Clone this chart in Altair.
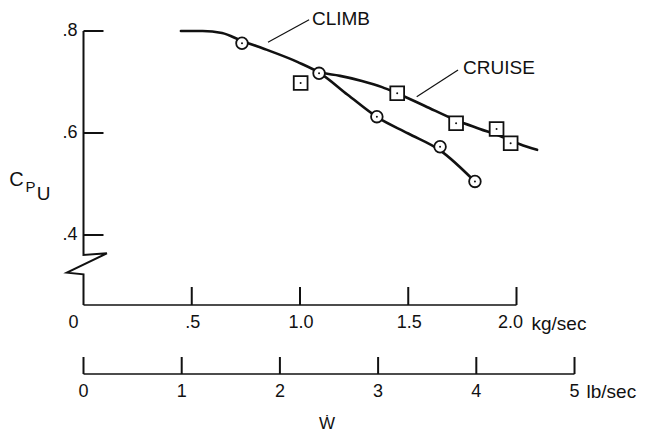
import altair as alt
import pandas as pd

# ---------------- values ----------------
# test points: W (kg/sec) and C_PU
climb_w = [0.732, 1.088, 1.355, 1.647, 1.808]
climb_cpu = [0.776, 0.717, 0.632, 0.573, 0.505]
cruise_w = [1.003, 1.449, 1.721, 1.908, 1.973]
cruise_cpu = [0.698, 0.678, 0.619, 0.608, 0.580]

# faired curves
climb_curve_w = [0.45, 0.55, 0.64, 0.73, 0.86, 0.99, 1.09, 1.22, 1.36, 1.50, 1.647, 1.81]
climb_curve_cpu = [0.800, 0.800, 0.796, 0.781, 0.761, 0.739, 0.718, 0.675, 0.630, 0.599, 0.566, 0.504]
cruise_curve_w = [1.09, 1.185, 1.286, 1.379, 1.448, 1.577, 1.721, 1.831, 1.924, 2.016, 2.095]
cruise_curve_cpu = [0.718, 0.712, 0.702, 0.690, 0.678, 0.653, 0.625, 0.608, 0.594, 0.578, 0.567]

# axes
y_ticks = [0.8, 0.6, 0.4]
y_labels = [".8", ".6", ".4"]
kg_ticks = [0.5, 1.0, 1.5, 2.0]
kg_labels = [".5", "1.0", "1.5", "2.0"]
lb_ticks = [0, 1, 2, 3, 4, 5]
lb_labels = ["0", "1", "2", "3", "4", "5"]
LB_PER_KG = 2.20462

# curve labels (text, leader start, leader end, text anchor)
curve_names = ["CLIMB", "CRUISE"]
leader_from_w = [0.852, 1.539]
leader_from_cpu = [0.778, 0.671]
leader_to_w = [1.042, 1.730]
leader_to_cpu = [0.822, 0.7235]
name_w = [1.055, 1.753]
name_cpu = [0.8235, 0.7275]

# ---------------- layout ----------------
PLOT_W, PLOT_H = 433, 274
Y_TOP = 0.8
PPU_Y = 510.0   # px per unit of C_PU
PPU_X = 216.5   # px per kg/sec
Y_BOT = Y_TOP - PLOT_H / PPU_Y


def du_y(px):
    return px / PPU_Y


def du_x(px):
    return px / PPU_X


FONT = "Liberation Sans"
INK = "#111111"
xs = alt.Scale(domain=[0, 2.0], nice=False, zero=False)
ys = alt.Scale(domain=[Y_BOT, Y_TOP], nice=False, zero=False)


def X(f="x"):
    return alt.X(f"{f}:Q", scale=xs, axis=None)


def Y(f="y"):
    return alt.Y(f"{f}:Q", scale=ys, axis=None)


# y axis with break
yaxis_df = pd.DataFrame({
    "o": [0, 1, 2, 3, 4, 5],
    "x": [0, 0, du_x(23.4), du_x(-16.6), 0, 0],
    "y": [Y_TOP, Y_TOP - du_y(224), Y_TOP - du_y(222.3), Y_TOP - du_y(241.7),
          Y_TOP - du_y(243.3), Y_BOT],
})
yaxis = alt.Chart(yaxis_df).mark_line(color=INK, strokeWidth=2, strokeJoin="miter").encode(
    x=X(), y=Y(), order="o:Q")

ytick_df = pd.DataFrame({"y": y_ticks, "lab": y_labels, "x": 0.0, "x2": du_x(20)})
yticks = alt.Chart(ytick_df).mark_rule(color=INK, strokeWidth=2).encode(
    x=X(), x2="x2:Q", y=Y())
ylabs = alt.Chart(ytick_df).mark_text(font=FONT, fontSize=18, color=INK, align="right",
                                       baseline="middle", dx=-6).encode(
    x=X(), y=Y(), text="lab:N")

# C_PU label
CPU_Y = Y_TOP - du_y(149)
cpu_c = alt.Chart(pd.DataFrame({"t": ["C"], "x": [0.0], "y": [CPU_Y]})).mark_text(
    font=FONT, fontSize=20, color=INK, align="center", baseline="middle", dx=-67).encode(
    x=X(), y=Y(), text="t:N")
cpu_p = alt.Chart(pd.DataFrame({"t": ["P"], "x": [0.0], "y": [CPU_Y]})).mark_text(
    font=FONT, fontSize=15, color=INK, align="center", baseline="middle", dx=-53, dy=7).encode(
    x=X(), y=Y(), text="t:N")
cpu_u = alt.Chart(pd.DataFrame({"t": ["U"], "x": [0.0], "y": [CPU_Y]})).mark_text(
    font=FONT, fontSize=19, color=INK, align="center", baseline="middle", dx=-40, dy=14).encode(
    x=X(), y=Y(), text="t:N")

# kg/sec axis
kgline = alt.Chart(pd.DataFrame({"x": [0.0], "x2": [2.0], "y": [Y_BOT]})).mark_rule(
    color=INK, strokeWidth=1.6).encode(x=X(), x2="x2:Q", y=Y())
kg_df = pd.DataFrame({"x": kg_ticks, "lab": kg_labels, "y": Y_BOT, "y2": Y_BOT + du_y(18)})
kgticks = alt.Chart(kg_df).mark_rule(color=INK, strokeWidth=2).encode(x=X(), y=Y(), y2="y2:Q")
kglabs = alt.Chart(kg_df.iloc[:-1]).mark_text(font=FONT, fontSize=18, color=INK, align="center",
                                               baseline="middle", dy=18, dx=1).encode(
    x=X(), y=Y(), text="lab:N")
kglast = alt.Chart(kg_df.iloc[-1:]).mark_text(font=FONT, fontSize=18, color=INK, align="center",
                                               baseline="middle", dy=18, dx=-6).encode(
    x=X(), y=Y(), text="lab:N")
kgzero = alt.Chart(pd.DataFrame({"x": [0.0], "y": [Y_BOT], "lab": ["0"]})).mark_text(
    font=FONT, fontSize=18, color=INK, align="center", baseline="middle", dy=18, dx=-10).encode(
    x=X(), y=Y(), text="lab:N")
kgunit = alt.Chart(pd.DataFrame({"x": [2.0], "y": [Y_BOT], "lab": ["kg/sec"]})).mark_text(
    font=FONT, fontSize=19, color=INK, align="left", baseline="middle", dy=19, dx=15).encode(
    x=X(), y=Y(), text="lab:N")

# lb/sec axis
Y_LB = Y_BOT - du_y(69)
lb_df = pd.DataFrame({"lb": lb_ticks, "lab": lb_labels, "y": Y_LB, "y2": Y_LB + du_y(17)})
lb_base = alt.Chart(lb_df).transform_calculate(x=f"datum.lb / {LB_PER_KG}")
lbticks = lb_base.mark_rule(color=INK, strokeWidth=2).encode(x=X(), y=Y(), y2="y2:Q")
lblabs = lb_base.mark_text(font=FONT, fontSize=18, color=INK, align="center",
                           baseline="middle", dy=18).encode(x=X(), y=Y(), text="lab:N")
lbline = alt.Chart(pd.DataFrame({"lb0": [lb_ticks[0]], "lb1": [lb_ticks[-1]], "y": [Y_LB]})).transform_calculate(
    x=f"datum.lb0 / {LB_PER_KG}", x2=f"datum.lb1 / {LB_PER_KG}").mark_rule(
    color=INK, strokeWidth=1.6).encode(x=X(), x2="x2:Q", y=Y())
lbunit = alt.Chart(pd.DataFrame({"lb": [lb_ticks[-1]], "y": [Y_LB], "lab": ["lb/sec"]})).transform_calculate(
    x=f"datum.lb / {LB_PER_KG}").mark_text(
    font=FONT, fontSize=19, color=INK, align="left", baseline="middle", dy=18, dx=12).encode(
    x=X(), y=Y(), text="lab:N")
wdot = alt.Chart(pd.DataFrame({"lb": [2.5], "y": [Y_LB], "lab": ["Ẇ"]})).transform_calculate(
    x=f"datum.lb / {LB_PER_KG}").mark_text(
    font=FONT, fontSize=17, color=INK, align="center", baseline="alphabetic", dy=55, dx=-2).encode(
    x=X(), y=Y(), text="lab:N")

# curves
climb_curve = alt.Chart(pd.DataFrame({"x": climb_curve_w, "y": climb_curve_cpu})).mark_line(
    color=INK, strokeWidth=2.6, interpolate="monotone", strokeCap="round").encode(x=X(), y=Y())
cruise_curve = alt.Chart(pd.DataFrame({"x": cruise_curve_w, "y": cruise_curve_cpu})).mark_line(
    color=INK, strokeWidth=2.6, interpolate="monotone", strokeCap="round").encode(x=X(), y=Y())

climb_df = pd.DataFrame({"x": climb_w, "y": climb_cpu})
cruise_df = pd.DataFrame({"x": cruise_w, "y": cruise_cpu})
circles = alt.Chart(climb_df).mark_point(shape="circle", filled=True, fill="white", stroke=INK,
                                         strokeWidth=1.8, size=135, opacity=1).encode(x=X(), y=Y())
squares = alt.Chart(cruise_df).mark_point(shape="square", filled=True, fill="white", stroke=INK,
                                          strokeWidth=1.8, size=190, opacity=1).encode(x=X(), y=Y())
dots = alt.Chart(pd.concat([climb_df, cruise_df])).mark_point(
    shape="circle", filled=True, color=INK, size=4, opacity=1).encode(x=X(), y=Y())

# leaders and names
ann_df = pd.DataFrame({"name": curve_names, "x": leader_from_w, "y": leader_from_cpu,
                       "x2": leader_to_w, "y2": leader_to_cpu, "nx": name_w, "ny": name_cpu})
leaders = alt.Chart(ann_df).mark_rule(color=INK, strokeWidth=1.2).encode(
    x=X(), y=Y(), x2="x2:Q", y2="y2:Q")
names = alt.Chart(ann_df).mark_text(font=FONT, fontSize=19, color=INK, align="left",
                                    baseline="middle").encode(x=X("nx"), y=Y("ny"), text="name:N")

chart = alt.layer(
    yaxis, yticks, ylabs, cpu_c, cpu_p, cpu_u,
    kgline, kgticks, kglabs, kglast, kgzero, kgunit,
    lbline, lbticks, lblabs, lbunit, wdot,
    climb_curve, cruise_curve, circles, squares, dots, leaders, names,
).properties(
    width=PLOT_W, height=PLOT_H,
    autosize=alt.AutoSizeParams(type="none"),
    padding={"left": 83.5, "top": 31, "right": 651 - 83.5 - PLOT_W, "bottom": 434 - 31 - PLOT_H},
    background="white",
).configure_view(stroke=None)

chart.save("out.html", embed_options={"renderer": "svg", "actions": False})
